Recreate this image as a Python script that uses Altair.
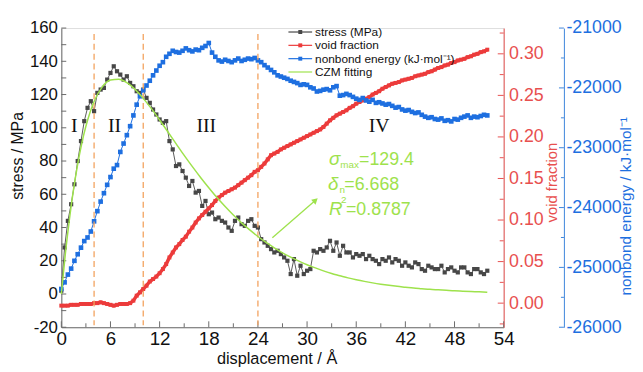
import altair as alt
import pandas as pd

# ---------------- data ----------------
STEP = 0.4  # displacement spacing of the sampled series (Å)

stress = [2, 28, 44, 54, 66, 80, 92, 104, 112, 116,
          110, 121, 123, 124, 129, 133, 137, 134, 132, 129,
          131, 127, 125, 122, 121, 123, 118, 115, 111, 108,
          105, 103, 104, 92, 87, 77, 78, 74, 70, 65,
          68, 61, 62, 53, 56, 48, 49, 45, 46, 44,
          43, 40, 38, 44, 46, 42, 41, 44, 45, 41,
          40, 33, 31, 29, 27, 25, 26, 24, 22, 20,
          12, 21, 11, 17, 12, 14, 15, 26, 25, 27,
          26, 28, 32, 26, 31, 23, 29, 25, 25, 22,
          24, 23, 24, 21, 23, 21, 20, 18, 21, 20,
          22, 19, 21, 20, 17, 19, 17, 16, 19, 18,
          15, 14, 17, 16, 15, 15, 17, 13, 15, 16,
          14, 13, 16, 16, 13, 12, 15, 15, 13, 12,
          14]

void_fraction = [-0.003, -0.003, -0.003, -0.002, -0.002, -0.002, -0.001, -0.001, -0.001, -0.001,
                 0.000, 0.000, 0.001, 0.000, -0.001, -0.002, -0.003, -0.002, -0.001, -0.001,
                 -0.001, 0.000, 0.003, 0.009, 0.013, 0.017, 0.021, 0.026, 0.029, 0.032,
                 0.036, 0.041, 0.047, 0.055, 0.061, 0.067, 0.071, 0.076, 0.080, 0.086,
                 0.091, 0.097, 0.102, 0.106, 0.110, 0.114, 0.118, 0.123, 0.127, 0.130,
                 0.133, 0.135, 0.137, 0.139, 0.142, 0.145, 0.148, 0.151, 0.154, 0.158,
                 0.160, 0.164, 0.168, 0.173, 0.178, 0.180, 0.182, 0.185, 0.187, 0.189,
                 0.191, 0.193, 0.195, 0.197, 0.199, 0.201, 0.203, 0.205, 0.207, 0.209,
                 0.212, 0.216, 0.220, 0.223, 0.226, 0.228, 0.230, 0.232, 0.235, 0.237,
                 0.240, 0.242, 0.244, 0.246, 0.248, 0.251, 0.253, 0.255, 0.258, 0.260,
                 0.262, 0.264, 0.265, 0.266, 0.268, 0.269, 0.270, 0.271, 0.273, 0.274,
                 0.275, 0.276, 0.278, 0.279, 0.281, 0.283, 0.284, 0.286, 0.287, 0.289,
                 0.290, 0.292, 0.293, 0.294, 0.296, 0.297, 0.299, 0.300, 0.302, 0.303,
                 0.305]

nonbond = [-25360, -25250, -25120, -25020, -24890, -24780, -24670, -24560, -24500, -24400,
           -24230, -24060, -23900, -23760, -23620, -23490, -23350, -23290, -23070, -22930,
           -22790, -22640, -22460, -22280, -22140, -22040, -21960, -21880, -21790, -21710,
           -21630, -21570, -21480, -21430, -21380, -21400, -21410, -21380, -21340, -21370,
           -21390, -21360, -21370, -21330, -21300, -21250, -21410, -21480, -21540, -21560,
           -21530, -21550, -21570, -21540, -21510, -21550, -21530, -21510, -21520, -21500,
           -21540, -21570, -21620, -21660, -21700, -21740, -21790, -21810, -21830, -21850,
           -21880, -21900, -21920, -21950, -21940, -21950, -21990, -22010, -22060, -22050,
           -22030, -22020, -22040, -21990, -21970, -22130, -22120, -22100, -22120, -22150,
           -22180, -22200, -22170, -22210, -22230, -22200, -22250, -22240, -22260, -22280,
           -22270, -22300, -22330, -22320, -22360, -22380, -22370, -22400, -22420, -22410,
           -22450, -22480, -22500, -22490, -22520, -22530, -22510, -22550, -22540, -22560,
           -22520, -22530, -22500, -22480, -22460, -22500, -22480, -22490, -22470, -22450,
           -22460]

fit_x = [0, 0.5, 1, 1.5, 2, 2.5, 3, 3.5, 4, 5, 6, 7, 8, 9, 10, 11, 12, 13, 14, 15,
         16, 17, 18, 19, 20, 21, 22, 23, 24, 25, 26, 27, 28, 29, 30, 31, 32, 33, 34,
         35, 36, 37, 38, 39, 40, 41, 42, 43, 44, 45, 46, 47, 48, 49, 50, 51, 52]
fit_y = [0, 24.5, 45.4, 63.2, 78.2, 90.7, 100.9, 109.2, 115.8, 124.6, 128.7, 129.2,
         127.1, 123.1, 117.7, 111.5, 104.7, 97.6, 90.5, 83.4, 76.6, 70.1, 63.9, 58.0,
         52.6, 47.5, 42.8, 38.6, 34.6, 31.0, 27.8, 24.8, 22.2, 19.8, 17.6, 15.7, 13.9,
         12.3, 11.0, 9.7, 8.6, 7.6, 6.7, 5.9, 5.2, 4.6, 4.1, 3.6, 3.2, 2.8, 2.5, 2.2,
         1.9, 1.7, 1.5, 1.3, 1.1]

phase_bounds = [4, 10, 24]
phase_labels = ["I", "II", "III", "IV"]
phase_label_x = [1.57, 6.5, 17.7, 38.8]
phase_label_y = [101, 101, 101, 101]

x_ticks = [0, 6, 12, 18, 24, 30, 36, 42, 48, 54]
x_minor = [3, 9, 15, 21, 27, 33, 39, 45, 51]
stress_ticks = [-20, 0, 20, 40, 60, 80, 100, 120, 140, 160]
stress_minor = [-10, 10, 30, 50, 70, 90, 110, 130, 150]
void_ticks = [0.0, 0.05, 0.10, 0.15, 0.20, 0.25, 0.30]
void_minor = [-0.025, 0.025, 0.075, 0.125, 0.175, 0.225, 0.275, 0.325]
energy_ticks = [-26000, -25000, -24000, -23000, -22000, -21000]
energy_minor = [-25500, -24500, -23500, -22500, -21500]

legend_labels = ["stress (MPa)", "void fraction", "nonbond energy (kJ·mol⁻¹)", "CZM fitting"]

# ---------------- style ----------------
FONT = "Liberation Sans"
W, H = 448, 303
E_OFF = 61
GRAY = "#474747"
RED = "#ec3b3b"
BLUE = "#1e6fe0"
GREEN = "#9ee24c"
ORANGE = "#f3a25e"
RED_AX = "#e8504f"
BLUE_AX = "#3d84da"
AX = "#6b6b6b"
MINUS = "replace(datum.label, '\u2212', '-')"

XS = alt.Scale(domain=[0, 54], nice=False, zero=False)
XA = alt.Axis(values=x_ticks, title="displacement / Å", grid=False, ticks=False, tickSize=0,
              labelPadding=2, labelFontSize=19, labelFlush=False, labelColor="#111",
              domainColor=AX, titleFontSize=16.5, titleFontWeight="normal", titleColor="#111",
              titleX=218, titleY=37, titleBaseline="alphabetic", titleAlign="center")

SS = alt.Scale(domain=[-20, 160], nice=False, zero=False)
SA = alt.Axis(orient="left", values=stress_ticks, title="stress / MPa", grid=False, ticks=False,
              tickSize=0, labelPadding=4, labelFontSize=17, labelFlush=False, labelColor="#111",
              labelExpr=MINUS, domainColor=AX, titleFontSize=16, titleFontWeight="normal",
              titleColor="#111", titleAngle=270, titleX=-44, titleY=129, titleAlign="center",
              titleBaseline="middle")

VS = alt.Scale(domain=[-0.029, 0.331], nice=False, zero=False)
VA = alt.Axis(orient="right", offset=0, values=void_ticks, format=".2f", title="void fraction",
              grid=False, ticks=False, tickSize=0, labelPadding=5, labelFontSize=18,
              labelFlush=False, labelColor=RED_AX, domainColor=RED_AX, titleColor=RED_AX,
              titleFontSize=15, titleFontWeight="normal", titleAngle=270, titleX=49, titleY=156,
              titleAlign="center", titleBaseline="middle")

ES = alt.Scale(domain=[-26000, -21000], nice=False, zero=False)
EA = alt.Axis(orient="right", offset=E_OFF, values=energy_ticks, format="d",
              title="nonbond energy / kJ·mol⁻¹", grid=False, ticks=False, tickSize=0,
              labelPadding=2, labelFontSize=18, labelFlush=False, labelColor=BLUE,
              labelExpr=MINUS, domainColor=BLUE_AX, titleColor=BLUE, titleFontSize=15.5,
              titleFontWeight="normal", titleAngle=270, titleX=62, titleY=180,
              titleAlign="center", titleBaseline="middle")


def X(f):
    return alt.X(f, type="quantitative", scale=XS, axis=XA)


def SY(f):
    return alt.Y(f, type="quantitative", scale=SS, axis=SA)


def SYn(f):
    return alt.Y(f, type="quantitative", scale=SS, axis=None)


def VY(f):
    return alt.Y(f, type="quantitative", scale=VS, axis=VA)


def EY(f):
    return alt.Y(f, type="quantitative", scale=ES, axis=EA)


df_s = pd.DataFrame({"x": [round(STEP * i, 1) for i in range(len(stress))], "stress": stress})
df_v = pd.DataFrame({"x": [round(STEP * i, 1) for i in range(len(void_fraction))], "void": void_fraction})
df_e = pd.DataFrame({"x": [round(STEP * i, 1) for i in range(len(nonbond))], "energy": nonbond})
df_fit = pd.DataFrame({"x": fit_x, "y": fit_y})
one = pd.DataFrame({"a": [0]})

# ---------------- stress group (left axis) ----------------
g_line = alt.Chart(df_s).mark_line(color=GRAY, strokeWidth=0.9).encode(x=X("x"), y=SY("stress"))
g_pts = alt.Chart(df_s).mark_square(color=GRAY, size=18, opacity=1).encode(x=X("x"), y=SY("stress"))
lt = alt.Chart(pd.DataFrame({"t": stress_ticks + stress_minor})).mark_rule(color=AX).encode(
    y=SY("t"), x=alt.value(0), x2=alt.value(5))
bt1 = alt.Chart(pd.DataFrame({"t": x_ticks})).mark_rule(color=AX).encode(
    x=X("t"), y=alt.value(H), y2=alt.value(H - 6))
bt2 = alt.Chart(pd.DataFrame({"t": x_minor})).mark_rule(color=AX).encode(
    x=X("t"), y=alt.value(H), y2=alt.value(H - 4))
stress_group = alt.layer(lt, bt1, bt2, g_line, g_pts)

# ---------------- void fraction group ----------------
r_line = alt.Chart(df_v).mark_line(color=RED, strokeWidth=3.5).encode(x=X("x"), y=VY("void"))
r_pts = alt.Chart(df_v).mark_square(color=RED, size=16, opacity=1).encode(x=X("x"), y=VY("void"))
rt1 = alt.Chart(pd.DataFrame({"t": void_ticks})).mark_rule(color=RED_AX).encode(
    y=VY("t"), x=alt.value(W - 6), x2=alt.value(W))
rt2 = alt.Chart(pd.DataFrame({"t": void_minor})).mark_rule(color=RED_AX).encode(
    y=VY("t"), x=alt.value(W - 4), x2=alt.value(W))
void_group = alt.layer(rt1, rt2, r_line, r_pts)

# ---------------- nonbond energy group ----------------
b_line = alt.Chart(df_e).mark_line(color=BLUE, strokeWidth=1).encode(x=X("x"), y=EY("energy"))
b_pts = alt.Chart(df_e).mark_square(color=BLUE, size=22, opacity=1).encode(x=X("x"), y=EY("energy"))
et1 = alt.Chart(pd.DataFrame({"t": energy_ticks})).mark_rule(color=BLUE_AX).encode(
    y=EY("t"), x=alt.value(W + E_OFF - 5), x2=alt.value(W + E_OFF))
et2 = alt.Chart(pd.DataFrame({"t": energy_minor})).mark_rule(color=BLUE_AX).encode(
    y=EY("t"), x=alt.value(W + E_OFF - 3), x2=alt.value(W + E_OFF))
energy_group = alt.layer(et1, et2, b_line, b_pts)

# ---------------- overlays (fit, phases, annotations, legend) ----------------
fit = alt.Chart(df_fit).mark_line(color=GREEN, strokeWidth=1.5, interpolate="monotone").encode(
    x=X("x"), y=SYn("y"))
dashed = alt.Chart(pd.DataFrame({"b": phase_bounds})).mark_rule(
    color=ORANGE, strokeDash=[6, 4], strokeWidth=1.3).encode(
    x=X("b"), y=alt.value(6), y2=alt.value(H - 2))
numerals = alt.Chart(pd.DataFrame({"x": phase_label_x, "y": phase_label_y, "t": phase_labels})).mark_text(
    font="Liberation Serif", fontSize=20, color="#111", align="center", baseline="middle").encode(
    x=X("x"), y=SYn("y"), text="t:N")

ann_sym = alt.Chart(pd.DataFrame({"x": [32.67, 32.55, 32.67], "y": [77.4, 62.6, 47.7],
                                  "t": ["σ", "δ", "R"]})).mark_text(
    fontSize=19, fontStyle="italic", color=GREEN, align="left", baseline="alphabetic").encode(
    x=X("x"), y=SYn("y"), text="t:N")
ann_sub = alt.Chart(pd.DataFrame({"x": [34.05, 33.95, 34.15], "y": [76.0, 60.6, 54.6],
                                  "t": ["max", "n", "2"]})).mark_text(
    fontSize=10, color=GREEN, align="left", baseline="alphabetic").encode(
    x=X("x"), y=SYn("y"), text="t:N")
ann_val = alt.Chart(pd.DataFrame({"x": [36.35, 34.55, 34.75], "y": [77.4, 62.6, 47.7],
                                  "t": ["=129.4", "=6.668", "=0.8787"]})).mark_text(
    fontSize=18, color=GREEN, align="left", baseline="alphabetic").encode(
    x=X("x"), y=SYn("y"), text="t:N")
arrow = alt.Chart(pd.DataFrame({"x": [25.76], "y": [33.9], "x2": [31.03], "y2": [56.4]})).mark_rule(
    color=GREEN, strokeWidth=1.3).encode(x=X("x"), x2="x2", y=SYn("y"), y2="y2")
head = alt.Chart(pd.DataFrame({"x": [31.03], "y": [56.4]})).mark_point(
    shape="triangle-up", filled=True, size=45, angle=49, color=GREEN, opacity=1).encode(
    x=X("x"), y=SYn("y"))

leg_colors = [GRAY, RED, BLUE, GREEN]
leg_marker = [True, True, True, False]
leg_rows = [4, 17.5, 31, 44.5]
legend_layers = []
for lab, col, mk, ry in zip(legend_labels, leg_colors, leg_marker, leg_rows):
    legend_layers.append(alt.Chart(one).mark_rule(color=col, strokeWidth=1.2).encode(
        x=alt.value(230), x2=alt.value(254), y=alt.value(ry)))
    if mk:
        legend_layers.append(alt.Chart(one).mark_square(color=col, size=16, opacity=1).encode(
            x=alt.value(242), y=alt.value(ry)))
    legend_layers.append(alt.Chart(one).mark_text(
        text=lab, fontSize=12, color="#111", align="left", baseline="middle").encode(
        x=alt.value(257), y=alt.value(ry)))

overlay = alt.layer(dashed, fit, numerals, ann_sym, ann_sub, ann_val, arrow, head, *legend_layers)

chart = alt.layer(stress_group, void_group, energy_group, overlay).resolve_scale(
    y="independent").properties(
    width=W, height=H,
    autosize=alt.AutoSizeParams(type="none"),
    padding={"left": 54, "top": 18, "right": 133, "bottom": 42},
).configure_view(stroke=None).configure_axis(
    labelFont=FONT, titleFont=FONT).configure_text(font=FONT).configure(background="white")

chart.save("out.html", embed_options={"renderer": "svg", "actions": False})
